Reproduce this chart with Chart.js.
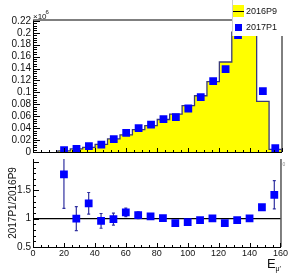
<!DOCTYPE html>
<html>
<head>
<meta charset="utf-8">
<script src="https://cdn.jsdelivr.net/npm/chart.js"></script>
<style>
  body { margin: 0; background: #fff; width: 289px; height: 276px; overflow: hidden; position: relative; }
  canvas { position: absolute; left: 0; }
  #topPad { top: 0; }
  #ratioPad { top: 150px; }
</style>
</head>
<body>
<canvas id="topPad" width="289" height="160"></canvas>
<canvas id="ratioPad" width="289" height="126"></canvas>
<script>
// 8 unit wide bins, 16..160
var binEdges = [16,24,32,40,48,56,64,72,80,88,96,104,112,120,128,136,144,152,160];
var binCenters = [20,28,36,44,52,60,68,76,84,92,100,108,116,124,132,140,148,156];
// entries, in units of 10^6
var p9Values = [0.0018,0.0052,0.0079,0.0127,0.0219,0.0288,0.0377,0.0442,0.0545,0.0636,0.0777,0.0944,0.118,0.151,0.201,0.25,0.085,0.0044];
var p1Values = [0.0032,0.0052,0.0100,0.0122,0.0217,0.032,0.040,0.046,0.055,0.0585,0.073,0.092,0.119,0.139,0.196,0.25,0.102,0.0063];
var ratioValues = [1.78,1.0,1.27,0.96,0.99,1.11,1.06,1.04,1.01,0.92,0.94,0.975,1.005,0.92,0.975,1.005,1.2,1.42];
var ratioErrors = [0.6,0.21,0.19,0.13,0.105,0.075,0.06,0.05,0.045,0.04,0.035,0.03,0.03,0.03,0.025,0.025,0.04,0.25];
var topYTicks = [0,0.02,0.04,0.06,0.08,0.1,0.12,0.14,0.16,0.18,0.2,0.22];
var ratioYTicks = [0.5,1,1.5];
var xTicks = [0,20,40,60,80,100,120,140,160];
var seriesNames = ["2016P9", "2017P1"];

var FONT = "'Liberation Sans', Arial, sans-serif";
var INK = '#111';

// histogram outline: two corners per bin
var histPoints = [{x: binEdges[0], y: 0}];
p9Values.forEach(function(v, i) {
  histPoints.push({x: binEdges[i], y: v});
  histPoints.push({x: binEdges[i + 1], y: v});
});
histPoints.push({x: binEdges[binEdges.length - 1], y: 0});

function fmt(v) { return String(+v.toFixed(2)); }

// ROOT style inward tick marks
function xTickMarks(ctx, xs, yBase) {
  ctx.beginPath();
  for (var k = 0; k <= 32; k++) {
    var px = Math.round(xs.getPixelForValue(k * 5)) + 0.5;
    var l = k % 4 === 0 ? 4 : 2;
    ctx.moveTo(px, yBase);
    ctx.lineTo(px, yBase - l);
  }
  ctx.stroke();
}

var topDecor = {
  id: 'topDecor',
  afterDraw: function(chart) {
    var ctx = chart.ctx, a = chart.chartArea;
    var xs = chart.scales.x, ys = chart.scales.y;
    ctx.save();
    ctx.strokeStyle = '#000';
    ctx.lineWidth = 1;
    ctx.beginPath();
    for (var i = 0; i <= 55; i++) {
      var py = Math.round(ys.getPixelForValue(i * 0.004)) + 0.5;
      var len = i % 5 === 0 ? 7 : 4;
      ctx.moveTo(a.left, py);
      ctx.lineTo(a.left + len, py);
    }
    ctx.moveTo(a.right + 0.5, a.top);
    ctx.lineTo(a.right + 0.5, a.bottom);
    ctx.stroke();
    xTickMarks(ctx, xs, a.bottom);

    ctx.strokeStyle = '#555';
    ctx.lineWidth = 1.5;
    ctx.beginPath();
    ctx.moveTo(a.left, a.top);
    ctx.lineTo(a.right, a.top);
    ctx.stroke();

    // exponent
    ctx.fillStyle = INK;
    ctx.textBaseline = 'alphabetic';
    ctx.textAlign = 'left';
    ctx.font = '8px ' + FONT;
    ctx.fillText('\u00d710', 33, 19);
    ctx.font = '6px ' + FONT;
    ctx.fillText('6', 45.5, 14);

    // legend
    ctx.fillStyle = '#fff';
    ctx.fillRect(232, 0, 57, 36);
    ctx.strokeStyle = '#ccc';
    ctx.lineWidth = 1;
    ctx.beginPath();
    ctx.moveTo(232.5, 0);
    ctx.lineTo(232.5, 36);
    ctx.stroke();
    ctx.fillStyle = '#ffff00';
    ctx.fillRect(233, 5, 11, 12);
    ctx.strokeStyle = '#000';
    ctx.beginPath();
    ctx.moveTo(233, 11.5);
    ctx.lineTo(244, 11.5);
    ctx.stroke();
    ctx.fillStyle = '#0000ff';
    ctx.fillRect(235, 24, 7, 7);
    ctx.fillStyle = INK;
    ctx.font = '9px ' + FONT;
    ctx.textBaseline = 'middle';
    ctx.fillText(seriesNames[0], 246, 11.5);
    ctx.fillText(seriesNames[1], 246, 28);
    ctx.restore();
  }
};

new Chart(document.getElementById('topPad'), {
  type: 'line',
  data: {
    datasets: [{
      label: seriesNames[1],
      data: binCenters.map(function(x, i) { return {x: x, y: p1Values[i]}; }),
      showLine: false,
      pointStyle: 'rect',
      pointRadius: 5.5,
      pointBackgroundColor: '#0000ff',
      pointBorderWidth: 0
    }, {
      label: seriesNames[0],
      data: histPoints,
      borderColor: '#3a3a78',
      borderWidth: 1.3,
      backgroundColor: '#ffff00',
      fill: 'origin',
      pointRadius: 0,
      tension: 0
    }]
  },
  options: {
    responsive: false,
    animation: false,
    devicePixelRatio: 1,
    layout: { padding: { top: 20, right: 7.5, left: 0, bottom: 0 } },
    plugins: { legend: { display: false }, tooltip: { enabled: false } },
    scales: {
      x: {
        type: 'linear', min: 0, max: 160,
        ticks: { display: false },
        grid: { display: false, drawTicks: false },
        border: { display: true, color: '#000', width: 1 },
        afterFit: function(s) { s.height = 1; }
      },
      y: {
        min: 0, max: 0.2215,
        afterBuildTicks: function(s) { s.ticks = topYTicks.map(function(v) { return {value: v}; }); },
        ticks: { padding: 2, autoSkip: false, color: INK, font: { size: 10, family: FONT }, callback: fmt },
        grid: { display: false, drawTicks: false },
        border: { display: true, color: '#000', width: 1 },
        afterFit: function(s) { s.width = 33; }
      }
    }
  },
  plugins: [topDecor]
});

var ratioDecor = {
  id: 'ratioDecor',
  beforeDatasetsDraw: function(chart) {
    var ctx = chart.ctx, a = chart.chartArea;
    var xs = chart.scales.x, ys = chart.scales.y;
    ctx.save();
    // reference line at 1
    ctx.strokeStyle = '#000';
    ctx.lineWidth = 1.2;
    var y1 = ys.getPixelForValue(1);
    ctx.beginPath();
    ctx.moveTo(a.left, y1);
    ctx.lineTo(a.right, y1);
    ctx.stroke();
    // error bars
    ctx.beginPath();
    ctx.rect(a.left, a.top, a.right - a.left, a.bottom - a.top);
    ctx.clip();
    ctx.strokeStyle = '#3030a0';
    ctx.lineWidth = 1.2;
    ctx.beginPath();
    binCenters.forEach(function(c, i) {
      var px = xs.getPixelForValue(c);
      var hi = ys.getPixelForValue(ratioValues[i] + ratioErrors[i]);
      var lo = ys.getPixelForValue(ratioValues[i] - ratioErrors[i]);
      ctx.moveTo(px, hi); ctx.lineTo(px, lo);
      ctx.moveTo(px - 1.5, hi); ctx.lineTo(px + 1.5, hi);
      ctx.moveTo(px - 1.5, lo); ctx.lineTo(px + 1.5, lo);
    });
    ctx.stroke();
    ctx.restore();
  },
  afterDraw: function(chart) {
    var ctx = chart.ctx, a = chart.chartArea;
    var xs = chart.scales.x, ys = chart.scales.y;
    ctx.save();
    ctx.strokeStyle = '#000';
    ctx.lineWidth = 1;
    ctx.beginPath();
    for (var i = 5; i <= 20; i++) {
      var py = Math.round(ys.getPixelForValue(i / 10)) + 0.5;
      var len = i % 5 === 0 ? 6 : 3;
      ctx.moveTo(a.left, py);
      ctx.lineTo(a.left + len, py);
    }
    ctx.moveTo(a.right + 0.5, a.top);
    ctx.lineTo(a.right + 0.5, a.bottom);
    ctx.stroke();
    xTickMarks(ctx, xs, a.bottom);

    // ratio axis labels
    ctx.fillStyle = INK;
    ctx.font = '10px ' + FONT;
    ctx.textAlign = 'right';
    ctx.textBaseline = 'middle';
    ratioYTicks.forEach(function(v) {
      ctx.fillText(fmt(v), a.left - 2, ys.getPixelForValue(v));
    });

    // x title
    ctx.textAlign = 'left';
    ctx.textBaseline = 'alphabetic';
    ctx.font = '13px ' + FONT;
    ctx.fillText('E', 267, 118);
    ctx.font = '7px ' + FONT;
    ctx.fillText('\u03bc\u2032', 275.5, 121);
    // small leftover label of the upper pad axis
    ctx.fillStyle = '#888';
    ctx.font = '5px ' + FONT;
    ctx.fillText('0', 282.5, 16);
    ctx.restore();
  }
};

new Chart(document.getElementById('ratioPad'), {
  type: 'line',
  data: {
    datasets: [{
      label: seriesNames[1] + '/' + seriesNames[0],
      data: binCenters.map(function(x, i) { return {x: x, y: ratioValues[i]}; }),
      showLine: false,
      pointStyle: 'rect',
      pointRadius: 5.5,
      pointBackgroundColor: '#0000ff',
      pointBorderWidth: 0
    }]
  },
  options: {
    responsive: false,
    animation: false,
    devicePixelRatio: 1,
    layout: { padding: { top: 9, right: 7.5, left: 0, bottom: 0 } },
    plugins: { legend: { display: false }, tooltip: { enabled: false } },
    scales: {
      x: {
        type: 'linear', min: 0, max: 160,
        afterBuildTicks: function(s) { s.ticks = xTicks.map(function(v) { return {value: v}; }); },
        ticks: { padding: 1, autoSkip: false, maxRotation: 0, color: INK, font: { size: 9, family: FONT } },
        grid: { display: false, drawTicks: false },
        border: { display: true, color: '#000', width: 1 },
        afterFit: function(s) { s.height = 29; }
      },
      y: {
        min: 0.5, max: 2.05,
        ticks: { display: false },
        grid: { display: false, drawTicks: false },
        border: { display: true, color: '#000', width: 1 },
        title: { display: true, text: seriesNames[1] + '/' + seriesNames[0], color: INK,
                 font: { size: 10, family: FONT }, padding: { top: 7, bottom: 0 } },
        afterFit: function(s) { s.width = 33; }
      }
    }
  },
  plugins: [ratioDecor]
});
</script>
</body>
</html>
